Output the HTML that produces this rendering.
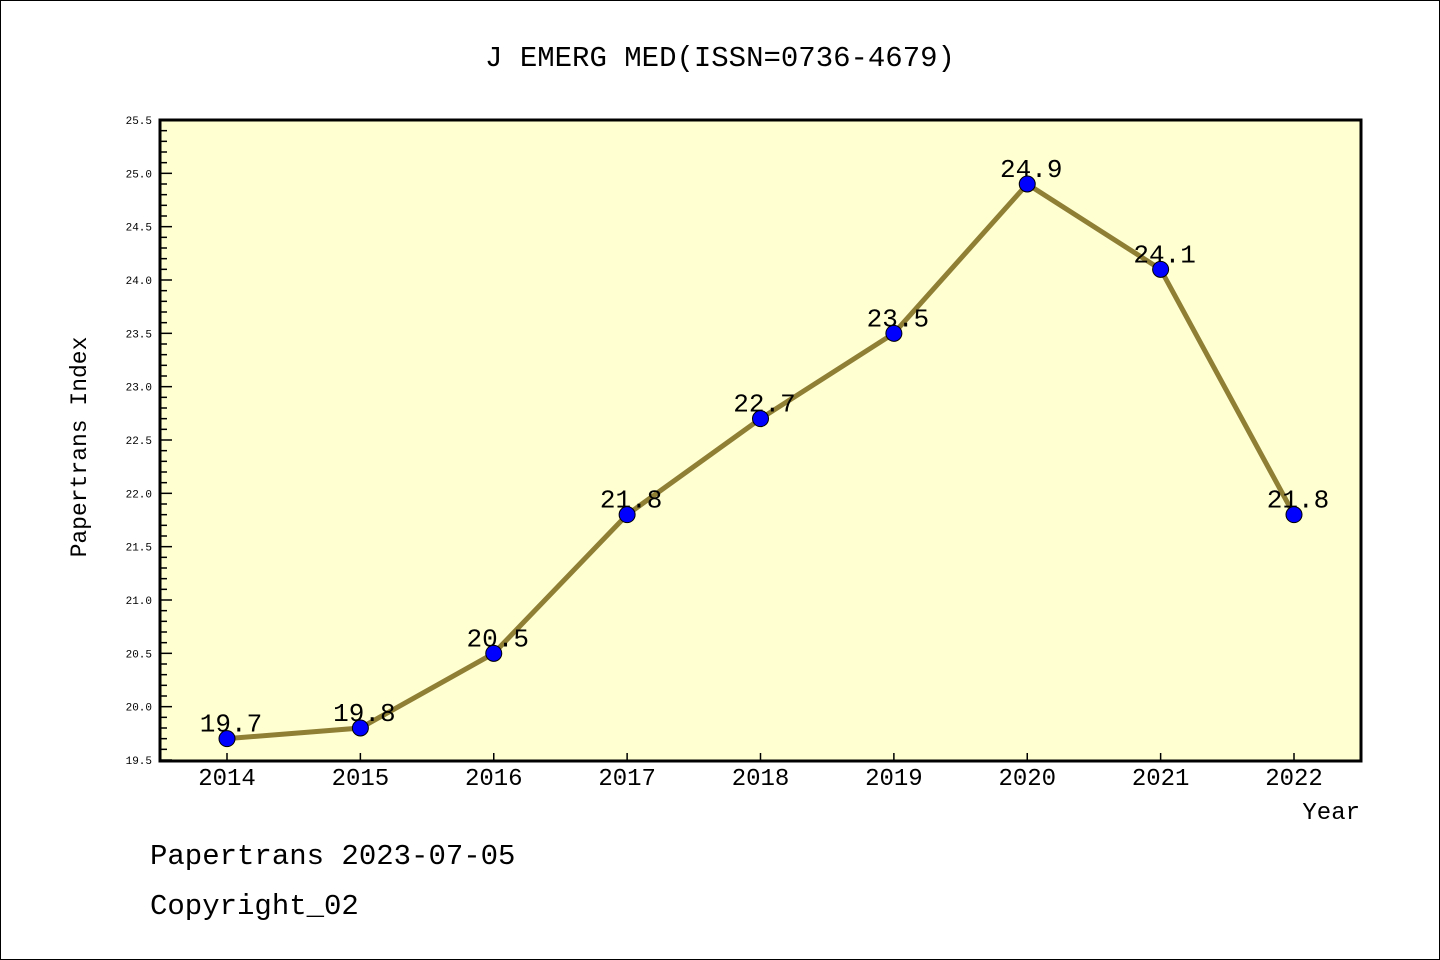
<!DOCTYPE html>
<html><head><meta charset="utf-8"><style>
html,body{margin:0;padding:0;background:#fff}
svg{display:block}
text{font-family:"Liberation Mono","DejaVu Sans Mono",monospace;fill:#000}
</style></head><body>
<svg width="1440" height="960" xmlns="http://www.w3.org/2000/svg">
<rect x="0.5" y="0.5" width="1439" height="959" fill="#fff" stroke="#000"/>
<text x="720" y="66" font-size="29" text-anchor="middle">J EMERG MED(ISSN=0736-4679)</text>
<rect x="160" y="120" width="1201" height="641" fill="#ffffd2"/>
<g id="ticks"></g>
<g id="series"></g>
<rect x="160" y="120" width="1201" height="641" fill="none" stroke="#000" stroke-width="3"/>
<text x="86" y="447" font-size="23" text-anchor="middle" transform="rotate(-90 86 447)">Papertrans Index</text>
<text x="1360" y="819" font-size="24" text-anchor="end">Year</text>
<text x="150" y="864" font-size="29">Papertrans 2023-07-05</text>
<text x="150" y="914" font-size="29">Copyright_02</text>
</svg>
<script>
const years=["2014","2015","2016","2017","2018","2019","2020","2021","2022"];
const values=[19.7,19.8,20.5,21.8,22.7,23.5,24.9,24.1,21.8];
const yTicks=["19.5","20.0","20.5","21.0","21.5","22.0","22.5","23.0","23.5","24.0","24.5","25.0","25.5"];
const NS="http://www.w3.org/2000/svg";
const yMin=19.5,yMax=25.5,plotTop=120,plotBot=760;
function yS(v){return plotBot-(v-yMin)/(yMax-yMin)*(plotBot-plotTop);}
function xS(i){return 227+i*133.375;}
function mk(t,a,p){const e=document.createElementNS(NS,t);for(const k in a)e.setAttribute(k,a[k]);p.appendChild(e);return e;}
const tg=document.getElementById('ticks'),sg=document.getElementById('series');
for(let k=0;k<=60;k++){const v=yMin+k*0.1,yy=yS(v),maj=k%5===0;
 const l=mk('line',{x1:160,x2:160+(maj?12:7),y1:yy,y2:yy,stroke:'#000','stroke-width':1.5},tg);
 
 }
yTicks.forEach(s=>{const t=mk('text',{x:152,y:yS(parseFloat(s))+4,'font-size':11,'text-anchor':'end','font-family':'Liberation Sans, sans-serif'},tg);t.textContent=s;
 
 });
years.forEach((yr,i)=>{const l=mk('line',{x1:xS(i),x2:xS(i),y1:plotBot,y2:plotBot-7,stroke:'#000','stroke-width':1.5},tg);
 
 
 const t=mk('text',{x:xS(i),y:785,'font-size':24,'text-anchor':'middle'},tg);t.textContent=yr;
 
 });
const pl=mk('polyline',{points:values.map((v,i)=>xS(i)+','+yS(v)).join(' '),fill:'none',stroke:'#8f7f35','stroke-width':5},sg);


values.forEach((v,i)=>{
 const t=mk('text',{x:xS(i)+4,y:yS(v)-7,'font-size':26,'text-anchor':'middle'},sg);t.textContent=v.toFixed(1);
 
 
 const c=mk('circle',{cx:xS(i),cy:yS(v),r:8,fill:'#0000ff',stroke:'#000','stroke-width':1},sg);
 
 });
</script>
</body></html>
